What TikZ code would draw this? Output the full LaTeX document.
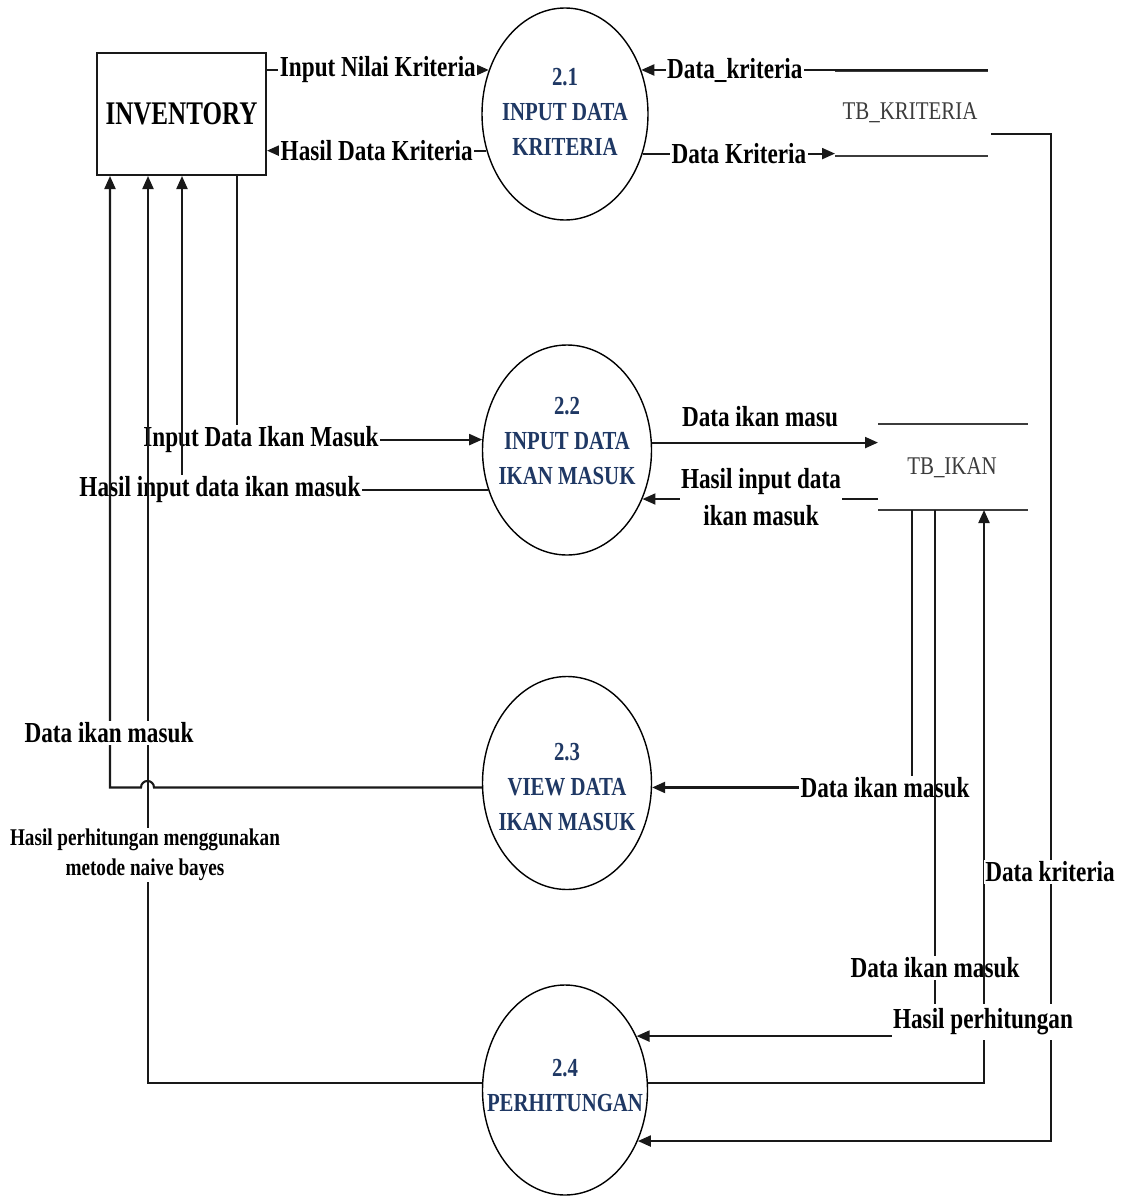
\documentclass[tikz,border=0pt]{standalone}
\usepackage{fontspec}
\setmainfont{Liberation Serif}
\newfontfamily\flowfont[FakeStretch=0.8]{Liberation Serif}
\newfontfamily\storefont[FakeStretch=0.82]{Liberation Serif}
\newfontfamily\entityfont[FakeStretch=0.76]{Liberation Serif}
\usetikzlibrary{shapes.geometric,arrows.meta}
\definecolor{procblue}{RGB}{31,56,100}
\definecolor{storegray}{RGB}{60,60,60}
\definecolor{flowline}{RGB}{25,25,25}

\begin{document}
\begin{tikzpicture}[x=1pt,y=-1pt,
  flow/.style={line width=2.1pt, draw=flowline},
  arr/.style={flow, -{Triangle[length=13pt,width=11pt]}},
  proc/.style={ellipse, draw=black, line width=1.4pt, inner sep=0pt},
  proctext/.style={text=procblue, align=center, inner sep=0pt,
    font=\flowfont\bfseries\fontsize{26}{35}\selectfont},
  lbl/.style={fill=white, inner sep=1.5pt, align=center,
    font=\flowfont\bfseries\fontsize{29}{37}\selectfont},
  smalllbl/.style={lbl, font=\flowfont\bfseries\fontsize{24}{30}\selectfont},
  storelbl/.style={text=storegray, inner sep=1pt,
    font=\storefont\fontsize{25.5}{30}\selectfont},
  storeline/.style={line width=2pt, draw=storegray}
]
\fill[white] (0,0) rectangle (1124,1196);
\useasboundingbox (0,0) rectangle (1124,1196);

% external entity
\node[draw=flowline, line width=2pt, minimum width=169pt, minimum height=122pt,
      inner sep=0pt, font=\entityfont\bfseries\fontsize{33}{36}\selectfont]
      (inv) at (181.5,114) {INVENTORY};

% processes
\node[proc, minimum width=166pt, minimum height=212pt] (p21) at (565,114) {};
\node[proc, minimum width=169pt, minimum height=210pt] (p22) at (567,450) {};
\node[proc, minimum width=169pt, minimum height=213pt] (p23) at (567,783) {};
\node[proc, minimum width=165pt, minimum height=210pt] (p24) at (565,1090) {};
\node[proctext] (t21) at (565,112) {2.1\\INPUT DATA\\KRITERIA};
\node[proctext] (t22) at (567,441) {2.2\\INPUT DATA\\IKAN MASUK};
\node[proctext] (t23) at (567,787) {2.3\\VIEW DATA\\IKAN MASUK};
\node[proctext] (t24) at (565,1086) {2.4\\PERHITUNGAN};

% data stores
\coordinate (kt-l) at (835,71);  \coordinate (kt-r) at (988,71);
\coordinate (kb-l) at (835,156); \coordinate (kb-r) at (988,156);
\coordinate (kr-out) at (991,134); \coordinate (kr-bend) at (1051,134);
\draw[storeline] (kt-l) -- (kt-r);
\draw[storeline] (kb-l) -- (kb-r);
\node[storelbl] (tbk) at (910,113) {TB\_KRITERIA};

\coordinate (it-l) at (878,424); \coordinate (it-r) at (1028,424);
\coordinate (ib-l) at (878,510); \coordinate (ib-r) at (1028,510);
\draw[storeline] (it-l) -- (it-r);
\draw[storeline] (ib-l) -- (ib-r);
\node[storelbl] (tbi) at (952,468) {TB\_IKAN};

% flows of process 2.1
\draw[arr] (inv.east |- p21.150) -- node[lbl] (f1) {Input Nilai Kriteria} (p21.150);
\draw[arr] (p21.205) -- node[lbl] (f2) {Hasil Data Kriteria} (inv.east |- p21.205);
\draw[arr] (kt-r |- p21.30) -- node[lbl, pos=0.73] (f3) {Data\_kriteria} (p21.30);
\draw[arr] (p21.-27) -- node[lbl] (f4) {Data Kriteria} (kb-l |- p21.-27);

% flows of process 2.2 with the store
\draw[arr] (p22.5) -- (it-l |- p22.5);
\node[lbl, fill=none] (f5) at (760,417) {Data ikan masu};
\draw[arr] (ib-l |- p22.-33) -- (p22.-33);
\node[lbl] (f6) at (761,497) {Hasil input data\\ikan masuk};

% flows from and to TB_IKAN
\draw[arr] (ib-l -| 912,0) -- (912,0 |- p23.-3) -- (p23.-3);
\node[lbl] (f7) at (885,788) {Data ikan masuk};
\draw[arr] (ib-l -| 935,0) -- (935,0 |- p24.37) -- (p24.37);
\node[lbl] (f8) at (935,968) {Data ikan masuk};
\draw[arr] (p24.5) -- (984,0 |- p24.5) -- (ib-l -| 984,0);
\draw[arr] (kr-out) -- (kr-bend) -- (kr-bend |- p24.-35) -- (p24.-35);
\node[lbl] (f9) at (1050,872) {Data kriteria};
\node[lbl, inner ysep=5pt] (f10) at (983,1022) {Hasil perhitungan};

% flows between INVENTORY and the processes
\draw[arr] (inv.south -| 237,0) -- (237,0 |- p22.173) -- (p22.173);
\node[lbl] (f11) at (261,440) {Input Data Ikan Masuk};
\draw[arr] (p22.207) -- (182,0 |- p22.207) -- (inv.south -| 182,0);
\node[lbl] (f12) at (220,490) {Hasil input data ikan masuk};
\draw[arr] (p23.183) -- (154,0 |- p23.183)
   arc[start angle=0, end angle=-180, radius=6.5]
   -- (110,0 |- p23.183) -- (inv.south -| 110,0);
\draw[arr] (p24.175) -- (148,0 |- p24.175) -- (inv.south -| 148,0);
\node[lbl] (f13) at (109,733) {Data ikan masuk};
\node[smalllbl] (f14) at (145,855) {Hasil perhitungan menggunakan\\metode naive bayes};
\end{tikzpicture}
\end{document}
